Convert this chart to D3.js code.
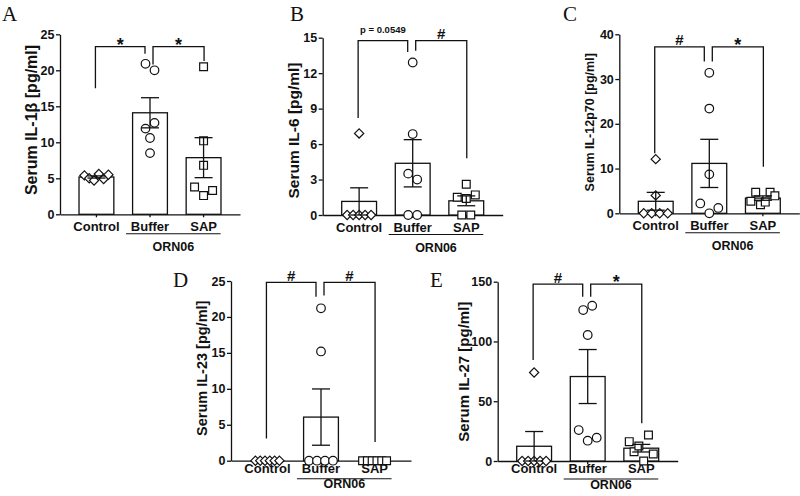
<!DOCTYPE html>
<html>
<head>
<meta charset="utf-8">
<script src="https://cdn.jsdelivr.net/npm/d3@7"></script>
<style>
  body { margin: 0; background: #fff; }
  svg { display: block; font-family: "Liberation Sans", Arial, sans-serif; }
  .axis path, .axis line { stroke: #111; stroke-width: 1.3px; }
  .axis text { fill: #111; font-weight: bold; }
</style>
</head>
<body>
<div id="chart"></div>
<script>
var groups = ["Control", "Buffer", "SAP"];
var groupLabel = "ORN06";
var panelLetters = ["A", "B", "C", "D", "E"];
var yTitles = ["Serum IL-1β [pg/ml]", "Serum IL-6 [pg/ml]", "Serum IL-12p70 [pg/ml]",
               "Serum IL-23 [pg/ml]", "Serum IL-27 [pg/ml]"];
var yMax = [25, 15, 40, 25, 150];
var yTickStep = [5, 3, 10, 5, 50];

// individual animals, listed left to right as they sit in each column
var il1bControl = [5.4, 5.0, 4.7, 5.6, 4.9, 5.5];
var il1bBuffer  = [20.9, 11.9, 12.7, 8.5, 20.0, 10.6];
var il1bSap     = [3.8, 20.5, 10.2, 6.8, 2.6, 3.3];
var il6Control  = [0, 0, 6.9, 0, 0, 0];
var il6Buffer   = [3.5, 0, 12.9, 6.85, 3.0, 0];
var il6Sap      = [1.5, 0, 2.6, 1.4, 0, 1.7];
var il12Control = [0, 0, 12.1, 4.0, 0, 0];
var il12Buffer  = [2.2, 31.4, 23.4, 8.7, 0, 1.2];
var il12Sap     = [2.7, 4.7, 1.9, 2.5, 4.7, 3.9];
var il23Control = [0, 0, 0, 0, 0, 0];
var il23Buffer  = [0, 0, 21.2, 15.2, 0, 0];
var il23Sap     = [0, 0, 0, 0, 0, 0];
var il27Control = [0, 0, 74, 0, 0, 0];
var il27Buffer  = [126.3, 25.9, 17.0, 105.4, 129.9, 19.5];
var il27Sap     = [16.2, 7.8, 12.6, 0, 21.8, 5.9];

// significance brackets: label, bar height and leg ends (data units)
var sigText = [["*", "*"], ["p = 0.0549", "#"], ["#", "*"], ["#", "#"], ["#", "*"]];
var bracketTop = [23.3, 14.75, 37.2, 24.8, 147.9];
var bracketEnds = [[17.5, 22.3, 20.8, 21.3], [8.2, 13.8, 13.9, 4.8], [13.4, 33.9, 33.9, 10.4],
                   [3.1, 22.8, 23.0, 2.6], [84.5, 137.4, 137.4, 31.5]];

var values = [
  [il1bControl, il1bBuffer, il1bSap],
  [il6Control, il6Buffer, il6Sap],
  [il12Control, il12Buffer, il12Sap],
  [il23Control, il23Buffer, il23Sap],
  [il27Control, il27Buffer, il27Sap]
];

var layout = [
  {x: 60,    top: 34.3,  bottom: 214.3, lx: 2,   ly: 20.7,  tx: 31.7,  ty: 120,   tfs: 16,   row: 0},
  {x: 322.7, top: 37.7,  bottom: 215,   lx: 290, ly: 20.7,  tx: 293.3, ty: 130.5, tfs: 15.5, row: 0},
  {x: 619.3, top: 34.3,  bottom: 213.3, lx: 563, ly: 20.7,  tx: 590,   ty: 122.3, tfs: 12.5, row: 0},
  {x: 231,   top: 281,   bottom: 460.7, lx: 173, ly: 286.7, tx: 201.7, ty: 368.3, tfs: 14.5, row: 1},
  {x: 497.7, top: 281.7, bottom: 461,   lx: 430, ly: 286.7, tx: 463.3, ty: 371.7, tfs: 15,   row: 1}
];
var rowText = [{cat: 16.5, line: 19.5, org: 37}, {cat: 12, line: 18, org: 27.5}];

var width = 180, ink = "#111";

var svg = d3.select("#chart").append("svg")
    .attr("width", 800)
    .attr("height", 496);

// spread points of similar value side by side (prism style rows)
function spread(vals, y) {
  var idx = d3.range(vals.length).sort(function(a, b) { return vals[b] - vals[a]; });
  var rows = [], cur = [];
  idx.forEach(function(k, j) {
    if (j > 0 && y(vals[k]) - y(vals[idx[j - 1]]) >= 8) { rows.push(cur); cur = []; }
    cur.push(k);
  });
  rows.push(cur);
  var off = vals.map(function() { return 0; });
  rows.forEach(function(r) {
    r.sort(function(a, b) { return a - b; });
    var n = r.length, step = n > 1 ? Math.min(9, 24 / (n - 1)) : 0;
    r.forEach(function(k, j) { off[k] = (j - (n - 1) / 2) * step; });
  });
  return off;
}

// diamond for control, square for SAP
function symbolPath(type, cx, cy) {
  if (type === 0) {
    var h = 4.6;
    return "M" + cx + "," + (cy - h) + "L" + (cx + h) + "," + cy + "L" + cx + "," + (cy + h) + "L" + (cx - h) + "," + cy + "Z";
  }
  var s = 3.9;
  return "M" + (cx - s) + "," + (cy - s) + "h" + (2 * s) + "v" + (2 * s) + "h" + (-2 * s) + "Z";
}

layout.forEach(function(L, p) {
  var g = svg.append("g").attr("transform", "translate(" + L.x + ",0)");
  var rt = rowText[L.row];

  var y = d3.scaleLinear().domain([0, yMax[p]]).range([L.bottom, L.top]);
  var x = d3.scaleBand().domain(groups).range([0, width])
      .paddingInner(0.35).paddingOuter(0.355);
  var cx = function(d) { return x(d) + x.bandwidth() / 2; };

  // y axis
  g.append("g")
      .attr("class", "axis")
      .call(d3.axisLeft(y)
        .tickValues(d3.range(0, yMax[p] + 1e-9, yTickStep[p]))
        .tickSize(4).tickPadding(1.5).tickSizeOuter(0))
      .selectAll("text").attr("font-size", "12.5px");

  // x axis
  var xa = g.append("g")
      .attr("class", "axis")
      .attr("transform", "translate(0," + L.bottom + ")")
      .call(d3.axisBottom(x).tickSize(3).tickSizeOuter(0));
  xa.selectAll("text")
      .attr("y", rt.cat).attr("dy", 0)
      .attr("font-size", "13px");

  // ORN06 underline
  var u0 = cx("Buffer") - 24, u1 = cx("SAP") + 17;
  g.append("line")
      .attr("x1", u0).attr("x2", u1)
      .attr("y1", L.bottom + rt.line).attr("y2", L.bottom + rt.line)
      .attr("stroke", ink).attr("stroke-width", 1.1);
  g.append("text")
      .attr("x", (u0 + u1) / 2).attr("y", L.bottom + rt.org)
      .attr("text-anchor", "middle")
      .attr("font-size", "12.5px").attr("font-weight", "bold")
      .attr("fill", ink)
      .text(groupLabel);

  // y title
  svg.append("text")
      .attr("transform", "translate(" + L.tx + "," + L.ty + ") rotate(-90)")
      .attr("dy", "0.35em")
      .attr("text-anchor", "middle")
      .attr("font-size", L.tfs + "px").attr("font-weight", "bold")
      .attr("fill", ink)
      .text(yTitles[p]);

  // panel letter
  svg.append("text")
      .attr("x", L.lx).attr("y", L.ly)
      .attr("font-family", "'Liberation Serif', 'Times New Roman', serif")
      .attr("font-size", "21px")
      .attr("fill", ink)
      .text(panelLetters[p]);

  groups.forEach(function(grp, gi) {
    var vals = values[p][gi];
    var m = d3.mean(vals), sem = d3.deviation(vals) / Math.sqrt(vals.length);
    var c = cx(grp);

    g.append("rect")
        .attr("x", x(grp)).attr("width", x.bandwidth())
        .attr("y", y(m)).attr("height", L.bottom - y(m))
        .attr("fill", "#fff").attr("stroke", ink).attr("stroke-width", 1.3);

    var off = spread(vals, y);
    g.selectAll(null)
        .data(vals)
      .enter().append(gi === 1 ? "circle" : "path")
        .each(function(d, i) {
          var px = c + off[i], py = y(d);
          if (gi === 1) d3.select(this).attr("cx", px).attr("cy", py).attr("r", 4.3);
          else d3.select(this).attr("d", symbolPath(gi === 0 ? 0 : 2, px, py));
        })
        .attr("fill", "#fff").attr("stroke", ink).attr("stroke-width", 1.2);

    if (sem > 0) {
      var eb = g.append("g").attr("stroke", ink).attr("stroke-width", 1.3);
      eb.append("line").attr("x1", c).attr("x2", c)
          .attr("y1", y(m + sem)).attr("y2", y(m - sem));
      [m + sem, m - sem].forEach(function(v) {
        eb.append("line").attr("x1", c - 9).attr("x2", c + 9)
            .attr("y1", y(v)).attr("y2", y(v));
      });
    }
  });

  // significance brackets
  var legX = [[cx("Control") - 1, cx("Buffer") - 5], [cx("Buffer") + 3, cx("SAP") + 0.5]];
  legX.forEach(function(lx, b) {
    var e = bracketEnds[p];
    g.append("path")
        .attr("d", "M" + lx[0] + "," + y(e[b * 2]) + "V" + y(bracketTop[p]) +
                   "H" + lx[1] + "V" + y(e[b * 2 + 1]))
        .attr("fill", "none").attr("stroke", ink).attr("stroke-width", 1.3);
    var t = sigText[p][b];
    var ty = y(bracketTop[p]);
    var fs = t === "*" ? 18 : t === "#" ? 15 : 9.5;
    var by = t === "*" ? ty + 4 : t === "#" ? ty - 1.5 : ty - 8;
    g.append("text")
        .attr("x", (lx[0] + lx[1]) / 2).attr("y", by)
        .attr("text-anchor", "middle")
        .attr("font-size", fs + "px").attr("font-weight", "bold")
        .attr("fill", ink)
        .text(t);
  });
});
</script>
</body>
</html>
